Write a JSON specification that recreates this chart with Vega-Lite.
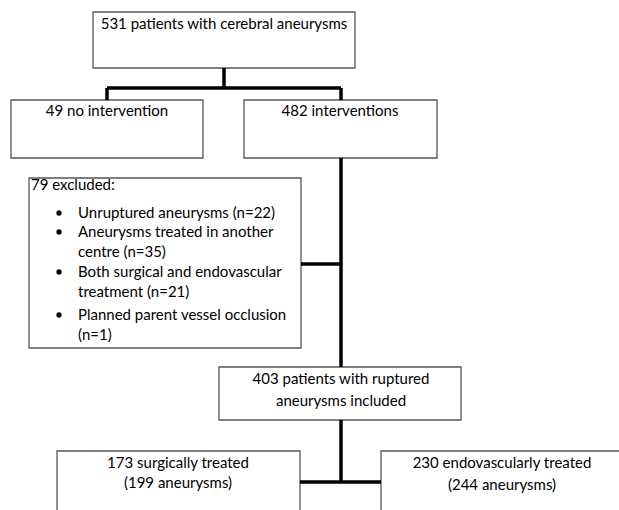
{
  "$schema": "https://vega.github.io/schema/vega-lite/v6.json",
  "width": 619,
  "height": 510,
  "padding": 0,
  "autosize": "none",
  "background": "white",
  "config": {"view": {"stroke": null}},
  "datasets": {
    "boxes": [
      {"x": 93, "x2": 355, "y": 12, "y2": 68},
      {"x": 11, "x2": 203, "y": 100, "y2": 158},
      {"x": 244, "x2": 437, "y": 100, "y2": 158},
      {"x": 29, "x2": 301, "y": 178, "y2": 348},
      {"x": 219, "x2": 461, "y": 367, "y2": 420},
      {"x": 57, "x2": 300, "y": 451, "y2": 530},
      {"x": 381, "x2": 623, "y": 451, "y2": 530}
    ],
    "lines": [
      {"x": 224, "x2": 224, "y": 68, "y2": 88},
      {"x": 107, "x2": 341, "y": 88, "y2": 88},
      {"x": 107, "x2": 107, "y": 88, "y2": 100},
      {"x": 341, "x2": 341, "y": 88, "y2": 100},
      {"x": 341, "x2": 341, "y": 158, "y2": 367},
      {"x": 301, "x2": 341, "y": 264, "y2": 264},
      {"x": 341, "x2": 341, "y": 420, "y2": 482},
      {"x": 300, "x2": 381, "y": 482, "y2": 482}
    ],
    "centered": [
      {"x": 224, "y": 24, "label": "531 patients with cerebral aneurysms"},
      {"x": 107, "y": 111, "label": "49 no intervention"},
      {"x": 340, "y": 111, "label": "482 interventions"},
      {"x": 341, "y": 379, "label": "403 patients with ruptured"},
      {"x": 341, "y": 401, "label": "aneurysms included"},
      {"x": 178, "y": 463, "label": "173 surgically treated"},
      {"x": 178, "y": 483, "label": "(199 aneurysms)"},
      {"x": 502, "y": 463, "label": "230 endovascularly treated"},
      {"x": 502, "y": 485, "label": "(244 aneurysms)"}
    ],
    "lefttext": [
      {"x": 31, "y": 185, "label": "79 excluded:"},
      {"x": 78, "y": 213, "label": "Unruptured aneurysms  (n=22)"},
      {"x": 78, "y": 232, "label": "Aneurysms  treated in another"},
      {"x": 78, "y": 252, "label": "centre (n=35)"},
      {"x": 78, "y": 272, "label": "Both surgical and endovascular"},
      {"x": 78, "y": 292, "label": "treatment (n=21)"},
      {"x": 78, "y": 315, "label": "Planned parent vessel occlusion"},
      {"x": 78, "y": 335, "label": "(n=1)"}
    ],
    "bullets": [
      {"x": 59, "y": 213},
      {"x": 59, "y": 232},
      {"x": 59, "y": 272},
      {"x": 59, "y": 315}
    ]
  },
  "layer": [
    {
      "data": {"name": "boxes"},
      "mark": {"type": "rect", "fill": "white", "stroke": "#555555", "strokeWidth": 1.3, "clip": true},
      "encoding": {
        "x": {"field": "x", "type": "quantitative", "scale": {"domain": [0, 619]}, "axis": null},
        "x2": {"field": "x2"},
        "y": {"field": "y", "type": "quantitative", "scale": {"domain": [0, 510], "reverse": true}, "axis": null},
        "y2": {"field": "y2"}
      }
    },
    {
      "data": {"name": "lines"},
      "mark": {"type": "rule", "color": "black", "strokeWidth": 3.5, "strokeCap": "butt", "clip": true},
      "encoding": {
        "x": {"field": "x", "type": "quantitative", "scale": {"domain": [0, 619]}, "axis": null},
        "x2": {"field": "x2"},
        "y": {"field": "y", "type": "quantitative", "scale": {"domain": [0, 510], "reverse": true}, "axis": null},
        "y2": {"field": "y2"}
      }
    },
    {
      "data": {"name": "centered"},
      "mark": {"type": "text", "font": "Lato", "fontSize": 15, "color": "black", "align": "center", "baseline": "middle"},
      "encoding": {
        "x": {"field": "x", "type": "quantitative", "scale": {"domain": [0, 619]}, "axis": null},
        "y": {"field": "y", "type": "quantitative", "scale": {"domain": [0, 510], "reverse": true}, "axis": null},
        "text": {"field": "label"}
      }
    },
    {
      "data": {"name": "lefttext"},
      "mark": {"type": "text", "font": "Lato", "fontSize": 15, "color": "black", "align": "left", "baseline": "middle"},
      "encoding": {
        "x": {"field": "x", "type": "quantitative", "scale": {"domain": [0, 619]}, "axis": null},
        "y": {"field": "y", "type": "quantitative", "scale": {"domain": [0, 510], "reverse": true}, "axis": null},
        "text": {"field": "label"}
      }
    },
    {
      "data": {"name": "bullets"},
      "mark": {"type": "point", "shape": "circle", "filled": true, "color": "black", "size": 28, "opacity": 1},
      "encoding": {
        "x": {"field": "x", "type": "quantitative", "scale": {"domain": [0, 619]}, "axis": null},
        "y": {"field": "y", "type": "quantitative", "scale": {"domain": [0, 510], "reverse": true}, "axis": null}
      }
    }
  ]
}
